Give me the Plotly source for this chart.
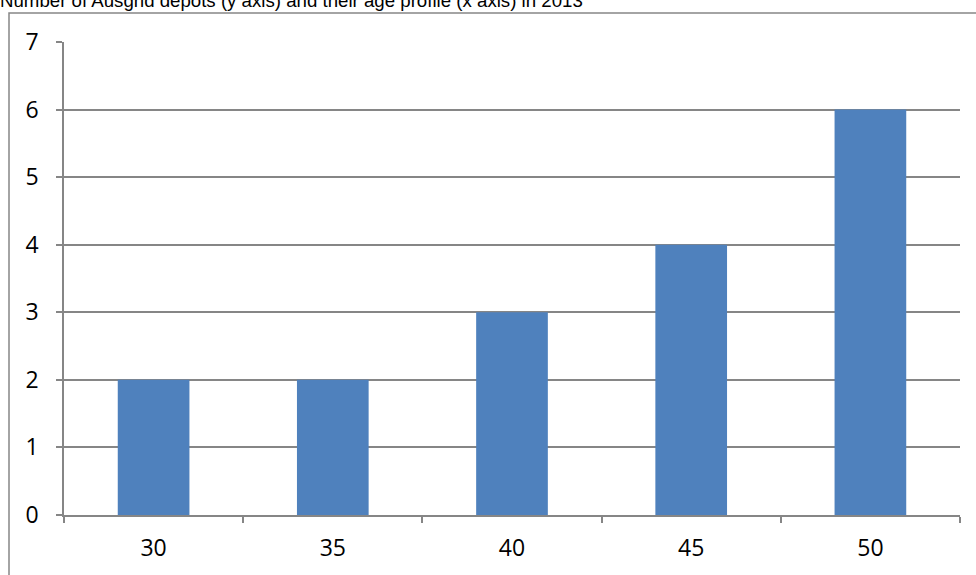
import plotly.graph_objects as go

# Depot age profile (years) and number of depots in each band
ages = ["30", "35", "40", "45", "50"]
depots = [2, 2, 3, 4, 6]
y_ticks = [0, 1, 2, 3, 4, 5, 6, 7]

W, H = 976, 575
L, R, T, B = 64, 16, 42, 58
pw, ph = W - L - R, H - T - B

bar_color = "#4F81BD"
line_color = "#868686"
label_font = dict(family="Open Sans, Noto Sans, sans-serif", size=23, color="#000000")

fig = go.Figure(
    go.Bar(
        x=ages,
        y=depots,
        marker=dict(color=bar_color, line=dict(width=0)),
        width=0.4,
    )
)

# Outer chart frame (top and left edges visible, the rest runs off the page)
fig.add_shape(
    type="rect",
    xref="paper",
    yref="paper",
    x0=(9 - L) / pw,
    x1=(W + 20 - L) / pw,
    y0=-(H + 20 - (T + ph)) / ph,
    y1=(T + ph - 13) / ph,
    line=dict(color=line_color, width=1.5),
    fillcolor="rgba(0,0,0,0)",
    layer="below",
)

fig.update_layout(
    width=W,
    height=H,
    margin=dict(l=L, r=R, t=T, b=B),
    paper_bgcolor="white",
    plot_bgcolor="white",
    showlegend=False,
    bargap=0.6,
    title=dict(
        text="Number of Ausgrid depots (y axis) and their age profile (x axis) in 2013",
        font=dict(family="Liberation Sans, Arial, sans-serif", size=18.67, color="#000000"),
        x=0,
        xref="container",
        xanchor="left",
        y=1,
        yref="container",
        yanchor="middle",
        pad=dict(l=0, r=0, t=0, b=0),
    ),
    xaxis=dict(
        type="category",
        tickson="boundaries",
        ticks="outside",
        ticklen=6,
        tickwidth=1.5,
        tickcolor=line_color,
        showline=True,
        linecolor=line_color,
        linewidth=1.5,
        showgrid=False,
        tickfont=label_font,
        ticklabelstandoff=12,
        fixedrange=True,
    ),
    yaxis=dict(
        range=[0, 7],
        tickvals=y_ticks,
        ticks="outside",
        ticklen=6,
        tickwidth=1.5,
        tickcolor=line_color,
        showline=True,
        linecolor=line_color,
        linewidth=1.5,
        showgrid=True,
        gridcolor=line_color,
        gridwidth=1.5,
        zeroline=False,
        tickfont=label_font,
        ticklabelstandoff=13,
        fixedrange=True,
    ),
)

fig.write_html("out.html")
